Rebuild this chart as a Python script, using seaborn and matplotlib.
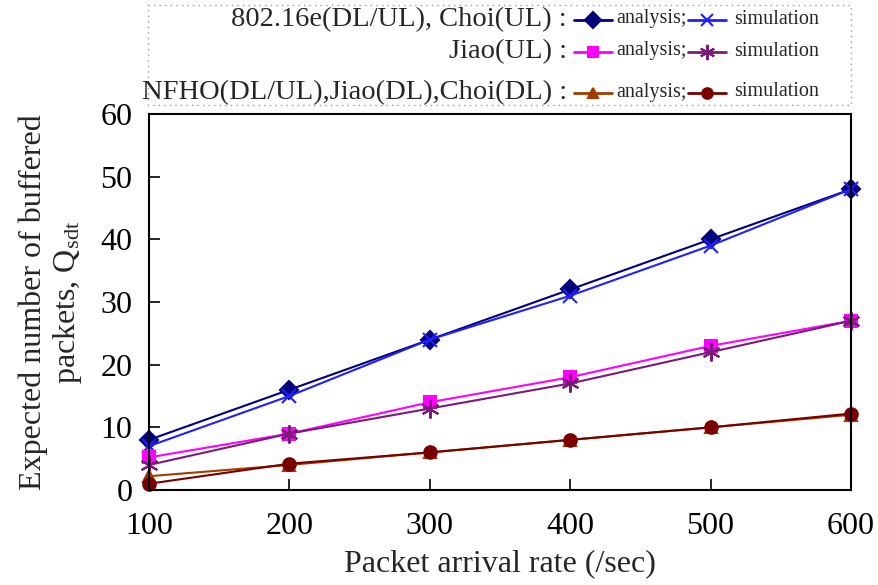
import matplotlib
matplotlib.use("Agg")
import matplotlib.pyplot as plt
import seaborn as sns
import pandas as pd

# ---- data ----
rates = [100, 200, 300, 400, 500, 600]
ieee_analysis = [8, 16, 24, 32, 40, 48]
ieee_simulation = [7, 15, 24, 31, 39, 48]
jiao_ul_analysis = [5.2, 9, 14, 18, 23, 27]
jiao_ul_simulation = [4, 9, 13, 17, 22, 27]
nfho_analysis = [2.2, 4, 6, 8, 10, 12]
nfho_simulation = [1, 4.2, 6, 8, 10, 12.2]

row_labels = ["802.16e(DL/UL), Choi(UL) :", "Jiao(UL) :",
              "NFHO(DL/UL),Jiao(DL),Choi(DL) :"]
x_label = "Packet arrival rate (/sec)"
y_label = "Expected number of buffered\npackets, $\\mathrm{Q}_{\\mathrm{sdt}}$"

sns.set_style("ticks")
plt.rcParams["font.family"] = ["Liberation Serif", "DejaVu Serif"]
plt.rcParams["mathtext.fontset"] = "custom"
plt.rcParams["mathtext.rm"] = "Liberation Serif"
plt.rcParams["mathtext.it"] = "Liberation Serif:italic"

fig = plt.figure(figsize=(8.79, 5.85), dpi=100)
ax = fig.add_axes([149/879, 1-490/585, (851-149)/879, (490-114)/585])

series = [
    (ieee_analysis, "#00007a", "D", 9),
    (ieee_simulation, "#1f1fff", "x", 10),
    (jiao_ul_analysis, "#ff00ff", "s", 9),
    (jiao_ul_simulation, "#7a1a7a", (6, 2, 0), 13),
    (nfho_analysis, "#a33a00", "^", 9),
    (nfho_simulation, "#7a0000", "o", 9),
]
for vals, col, mk, ms in series:
    df = pd.DataFrame({"x": rates, "y": vals})
    sns.lineplot(data=df, x="x", y="y", ax=ax, color=col, marker=mk,
                 markersize=ms, markeredgecolor=col, markeredgewidth=1.5,
                 linewidth=1.5, clip_on=False)

ax.set_xlim(100, 600)
ax.set_ylim(0, 60)
ax.set_xticks(rates)
ax.set_yticks(range(0, 61, 10))
ax.tick_params(axis="both", direction="in", length=8, width=1.2,
               labelsize=23, colors="black")
ax.tick_params(axis="x", pad=16)
ax.tick_params(axis="y", pad=12)
for s in ax.spines.values():
    s.set_linewidth(1.5)
    s.set_color("black")
ax.set_xlabel(x_label, fontsize=23, labelpad=6)
ax.set_ylabel(y_label, fontsize=23, labelpad=12, linespacing=1.1)

# ---- legend (drawn in pixel coordinates) ----
lax = fig.add_axes([0, 0, 1, 1], facecolor="none")
lax.set_xlim(0, 879)
lax.set_ylim(585, 0)
lax.axis("off")
lax.plot([148, 851, 851, 148, 148], [5, 5, 105, 105, 5], color="#999999",
         linestyle=(0, (1, 3)), linewidth=1)
rows_y = [20, 52, 93]
legend_marks = [
    (series[0], series[1]),
    (series[2], series[3]),
    (series[4], series[5]),
]
for ry, lab, (a, b) in zip(rows_y, row_labels, legend_marks):
    lax.text(567, ry, lab, ha="right", va="center", fontsize=20.5)
    for (vals, col, mk, ms), x0, x1 in [(a, 574, 612), (b, 688, 726)]:
        lax.plot([x0, x1], [ry, ry], color=col, linewidth=2)
        lax.plot([(x0 + x1) / 2], [ry], color=col, marker=mk,
                 markersize=ms * 0.85, markeredgecolor=col, markeredgewidth=1.5)
    lax.text(616, ry - 1, "analysis;", ha="left", va="center", fontsize=14.5)
    lax.text(734, ry - 1, "simulation", ha="left", va="center", fontsize=14.5)

fig.savefig("out.png", dpi=100)
